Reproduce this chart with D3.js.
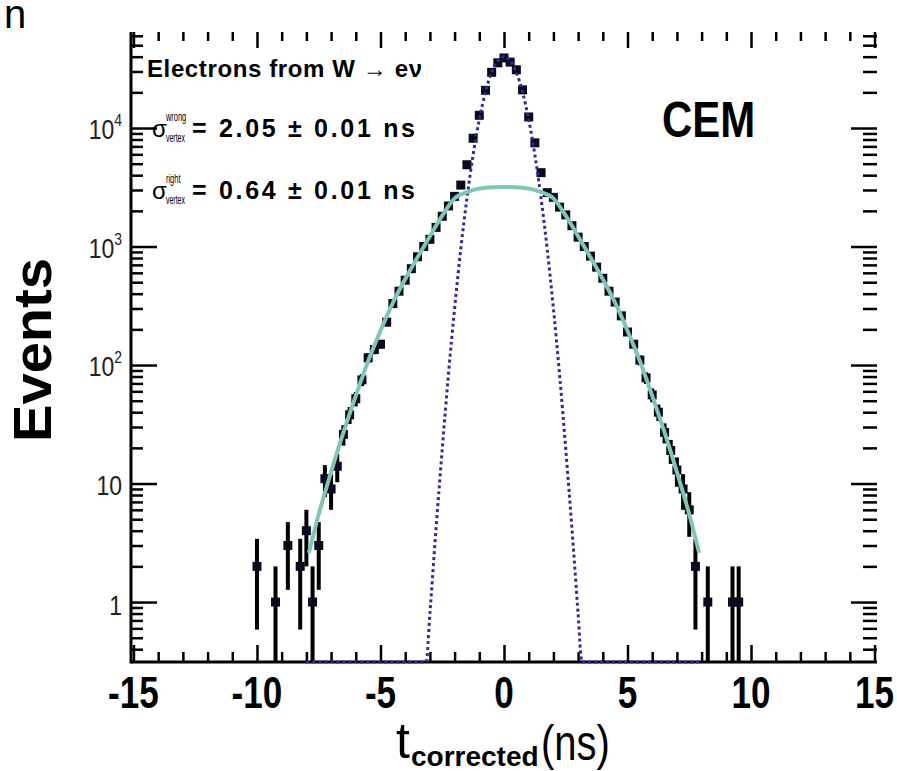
<!DOCTYPE html>
<html>
<head>
<meta charset="utf-8">
<script src="https://cdn.jsdelivr.net/npm/d3@7"></script>
<style>
  body { margin: 0; background: #fff; }
  svg { display: block; }
  text { font-family: "Liberation Sans", Arial, sans-serif; fill: #000; }
</style>
</head>
<body>
<div id="container"></div>
<script>
const width = 897;
const height = 771;

// measured data points (bin centre in ns, events)
const binCentres = [-10, -9.25, -8.75, -8.25, -8, -7.75, -7.5,
  -7.25, -7, -6.75, -6.5, -6.25, -6, -5.75, -5.5, -5.25, -5,
  -4.75, -4.5, -4.25, -4, -3.75, -3.5, -3.25, -3, -2.75, -2.5,
  -2.25, -2, -1.75, -1.5, -1.25, -1, -0.75, -0.5, -0.25, 0,
  0.25, 0.5, 0.75, 1, 1.25, 1.5, 1.75, 2, 2.25, 2.5,
  2.75, 3, 3.25, 3.5, 3.75, 4, 4.25, 4.5, 4.75, 5,
  5.25, 5.5, 5.75, 6, 6.25, 6.5, 6.75, 7, 7.25, 7.5,
  7.75, 8.25, 9.25, 9.5];
const eventCounts = [2, 1, 3, 2, 4, 1, 3,
  11, 9, 14, 26, 38, 52, 75, 115, 135, 150,
  230, 330, 420, 520, 650, 820, 1000, 1150, 1450, 1800,
  2200, 2650, 3300, 4900, 8200, 12800, 20800, 29500, 35500, 39000,
  36000, 31000, 21000, 12400, 7500, 4200, 2850, 2600, 2150, 1850,
  1500, 1200, 1000, 830, 670, 540, 420, 340, 260, 190,
  150, 110, 78, 56, 40, 27, 19, 13, 9, 6,
  2, 1, 1, 1];

// wide gaussian (wrong vertex)
const wrongX = [-7.9, -7.5, -7, -6.5, -6, -5.5, -5, -4.5, -4, -3.5, -3, -2.5, -2, -1.5, -1, -0.5, 0,
  0.5, 1, 1.5, 2, 2.5, 3, 3.5, 4, 4.5, 5, 5.5, 6, 6.5, 7, 7.5, 7.9];
const wrongY = [2.6, 5.5, 12.5, 27, 55, 108, 195, 335, 530, 810, 1220, 1820, 2550, 2880, 3080, 3160, 3180,
  3160, 3080, 2880, 2550, 1820, 1220, 810, 530, 335, 195, 108, 55, 27, 12.5, 5.5, 2.6];

// narrow gaussian (right vertex)
const rightX = [-8, -3.15, -3, -2.75, -2.5, -2.25, -2, -1.75, -1.5, -1.25, -1, -0.75, -0.5, -0.25, 0,
  0.25, 0.5, 0.75, 1, 1.25, 1.5, 1.75, 2, 2.25, 2.5, 2.75, 3, 3.15, 8];
const rightY = [0.1, 0.3, 0.8, 4.2, 19.5, 83, 300, 950, 2560, 5940, 11800, 20100, 29500, 37000, 40000,
  37000, 29500, 20100, 11800, 5940, 2560, 950, 300, 83, 19.5, 4.2, 0.8, 0.3, 0.1];

const xMajor = [-15, -10, -5, 0, 5, 10, 15];
const xLabels = ["-15", "-10", "-5", "0", "5", "10", "15"];
const yMajor = [1, 10, 100, 1000, 10000];
const yBase = ["1", "10", "10", "10", "10"];
const yExp = ["", "", "2", "3", "4"];

const svg = d3.select("#container").append("svg")
  .attr("width", width)
  .attr("height", height)
  .style("background-color", "white");

const x = d3.scaleLinear().domain([-15.1, 15.1]).range([131, 877]);
const y = d3.scaleLog().domain([0.312, 64600]).range([662, 32]).clamp(true);

const xMinor = x.ticks(30).filter(v => v % 5 !== 0);
const yMinor = y.ticks().filter(v => Math.abs(Math.log10(v) - Math.round(Math.log10(v))) > 1e-6);

// ticks on all four sides, pointing inwards
function tickAxis(axisFn, scale, values, size, transform) {
  const g = svg.append("g")
    .attr("transform", transform)
    .call(axisFn(scale).tickValues(values).tickSize(size).tickSizeOuter(0).tickFormat(""));
  g.select(".domain").remove();
  g.selectAll(".tick line").attr("stroke", "#000").attr("stroke-width", 2.5);
}

tickAxis(d3.axisBottom, x, xMajor, -17, "translate(0,662)");
tickAxis(d3.axisBottom, x, xMinor, -10, "translate(0,662)");
tickAxis(d3.axisTop, x, xMajor, -16, "translate(0,32)");
tickAxis(d3.axisTop, x, xMinor, -9, "translate(0,32)");
tickAxis(d3.axisLeft, y, yMajor, -26, "translate(131,0)");
tickAxis(d3.axisLeft, y, yMinor, -12, "translate(131,0)");
tickAxis(d3.axisRight, y, yMajor, -26, "translate(877,0)");
tickAxis(d3.axisRight, y, yMinor, -14, "translate(877,0)");

// left and bottom frame lines
svg.append("line")
  .attr("x1", x.range()[0]).attr("x2", x.range()[0])
  .attr("y1", y.range()[0] + 1.5).attr("y2", y.range()[1])
  .attr("stroke", "#000").attr("stroke-width", 3);
svg.append("line")
  .attr("x1", x.range()[0]).attr("x2", x.range()[1])
  .attr("y1", y.range()[0]).attr("y2", y.range()[0])
  .attr("stroke", "#000").attr("stroke-width", 3);

// tick labels
svg.selectAll(".xlab").data(xMajor).enter().append("text")
  .attr("class", "xlab")
  .attr("transform", d => "translate(" + x(d) + ",708) scale(0.78,1)")
  .attr("text-anchor", "middle")
  .attr("font-size", 45)
  .attr("font-weight", "bold")
  .text((d, i) => xLabels[i]);

const ylab = svg.selectAll(".ylab").data(yMajor).enter().append("text")
  .attr("class", "ylab")
  .attr("transform", (d, i) => "translate(122," + (y(d) + (i === 0 ? 13 : 11)) + ") scale(0.82,1)")
  .attr("text-anchor", "end")
  .attr("font-size", 28)
  .style("fill", "#222");
ylab.append("tspan").text((d, i) => yBase[i]);
ylab.append("tspan")
  .attr("font-size", 17)
  .attr("dy", -13)
  .text((d, i) => yExp[i]);

// axis titles
svg.append("text")
  .attr("transform", "translate(51,350) rotate(-90)")
  .attr("text-anchor", "middle")
  .attr("font-size", 54)
  .attr("font-weight", "bold")
  .attr("textLength", 184)
  .attr("lengthAdjust", "spacingAndGlyphs")
  .text("Events");

svg.append("text").attr("x", 396).attr("y", 758).attr("font-size", 50).text("t");
svg.append("text").attr("x", 411).attr("y", 766)
  .attr("font-size", 28).attr("font-weight", "bold").text("corrected");
svg.append("text").attr("transform", "translate(541,760) scale(0.8,1)")
  .attr("font-size", 50).text("(ns)");

// panel letter fragment at top left
svg.append("text").attr("x", 4).attr("y", 28).attr("font-size", 40).text("n");

// data points with poisson error bars
const points = binCentres.map((t, i) => ({ t: t, n: eventCounts[i], e: Math.sqrt(eventCounts[i]) }));

const plot = svg.append("g");
plot.selectAll(".err").data(points).enter().append("line")
  .attr("class", "err")
  .attr("x1", d => x(d.t)).attr("x2", d => x(d.t))
  .attr("y1", d => y(Math.max(d.n - d.e, 0.01)))
  .attr("y2", d => y(d.n + d.e))
  .attr("stroke", "#000")
  .attr("stroke-width", 4);
plot.selectAll(".pt").data(points).enter().append("rect")
  .attr("class", "pt")
  .attr("x", d => x(d.t) - 4.5)
  .attr("y", d => y(d.n) - 4.5)
  .attr("width", 9)
  .attr("height", 9)
  .attr("fill", "#0a0a1e");

const line = d3.line()
  .x(d => x(d[0]))
  .y(d => y(d[1]))
  .curve(d3.curveMonotoneX);

// narrow component, dotted
plot.append("path")
  .datum(rightX.map((v, i) => [v, rightY[i]]))
  .attr("d", line)
  .attr("fill", "none")
  .attr("stroke", "#2c2ca0")
  .attr("stroke-width", 3)
  .attr("stroke-dasharray", "3,3");

// wide component, solid cyan
plot.append("path")
  .datum(wrongX.map((v, i) => [v, wrongY[i]]))
  .attr("d", line)
  .attr("fill", "none")
  .attr("stroke", "#7fc6b6")
  .attr("stroke-width", 4);

// legend texts
svg.append("text").attr("x", 147).attr("y", 77)
  .attr("font-size", 24).attr("font-weight", "bold")
  .attr("textLength", 275).attr("lengthAdjust", "spacing")
  .text("Electrons from W \u2192 e\u03bd");

const sigmaRows = [
  { y: 137, sup: "wrong", val: "= 2.05 \u00b1 0.01 ns" },
  { y: 199, sup: "right", val: "= 0.64 \u00b1 0.01 ns" }
];
sigmaRows.forEach(r => {
  svg.append("text").attr("x", 152).attr("y", r.y).attr("font-size", 24).text("\u03c3");
  svg.append("text").attr("transform", "translate(166," + (r.y - 16) + ") scale(0.62,1)")
    .attr("font-size", 12).text(r.sup);
  svg.append("text").attr("transform", "translate(166," + (r.y + 5) + ") scale(0.58,1)")
    .attr("font-size", 12).text("vertex");
  svg.append("text").attr("x", 192).attr("y", r.y)
    .attr("font-size", 25).attr("font-weight", "bold")
    .attr("textLength", 223).attr("lengthAdjust", "spacing").text(r.val);
});

svg.append("text").attr("transform", "translate(662,137) scale(0.84,1)")
  .attr("font-size", 50).attr("font-weight", "bold").text("CEM");
</script>
</body>
</html>
